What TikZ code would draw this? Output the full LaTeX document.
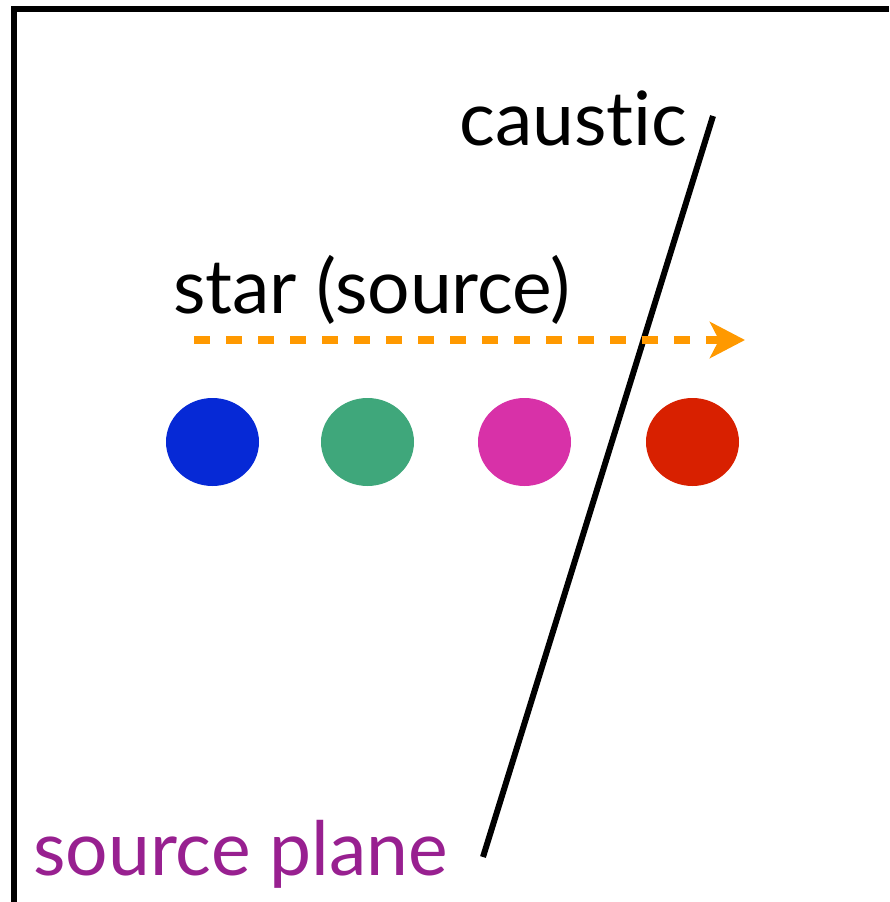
\documentclass[tikz,border=0pt]{standalone}
\usepackage{fontspec}
\setmainfont{Lato}[Ligatures=NoCommon]
\usetikzlibrary{shapes,arrows.meta}
\definecolor{dotblue}{RGB}{6,41,214}
\definecolor{dotgreen}{RGB}{63,167,123}
\definecolor{dotmagenta}{RGB}{216,49,168}
\definecolor{dotred}{RGB}{216,32,0}
\definecolor{pathorange}{RGB}{255,153,0}
\definecolor{planepurple}{RGB}{152,32,144}

\begin{document}
\begin{tikzpicture}[x=1pt, y=-1pt,
    label/.style={anchor=base west, inner sep=0pt, font=\fontsize{75}{80}\selectfont},
    image/.style={ellipse, inner sep=0pt, minimum width=93pt, minimum height=88pt},
    track/.style={pathorange, line width=8pt, dash pattern=on 16pt off 16pt,
      -{Stealth[length=35pt, width=36pt, inset=9pt]}}]
      \useasboundingbox (0,0) rectangle (889,902);
      \draw [line width=6pt] (14,902) -- (14,8.5) -- (889,8.5);
      \node [label] (caus) at (459,145) {caustic};
      \node [label] (star) at (173,313) {star (source)};
      \node [label, planepurple] (plane) at (33,875) {source plane};
      \node [image, fill=dotblue] (im1) at (212.5,442) {};
      \node [image, fill=dotgreen] (im2) at (367.5,442) {};
      \node [image, fill=dotmagenta] (im3) at (524.5,442) {};
      \node [image, fill=dotred] (im4) at (692.5,442) {};
      \coordinate (ctop) at (713,116);
      \coordinate (cbot) at (483,857);
      \coordinate (tstart) at (194,340);
      \coordinate (tend) at (745,340);
      \draw [line width=6pt] (ctop) -- (cbot);
      \draw [track] (tstart) -- (tend);
\end{tikzpicture}
\end{document}
